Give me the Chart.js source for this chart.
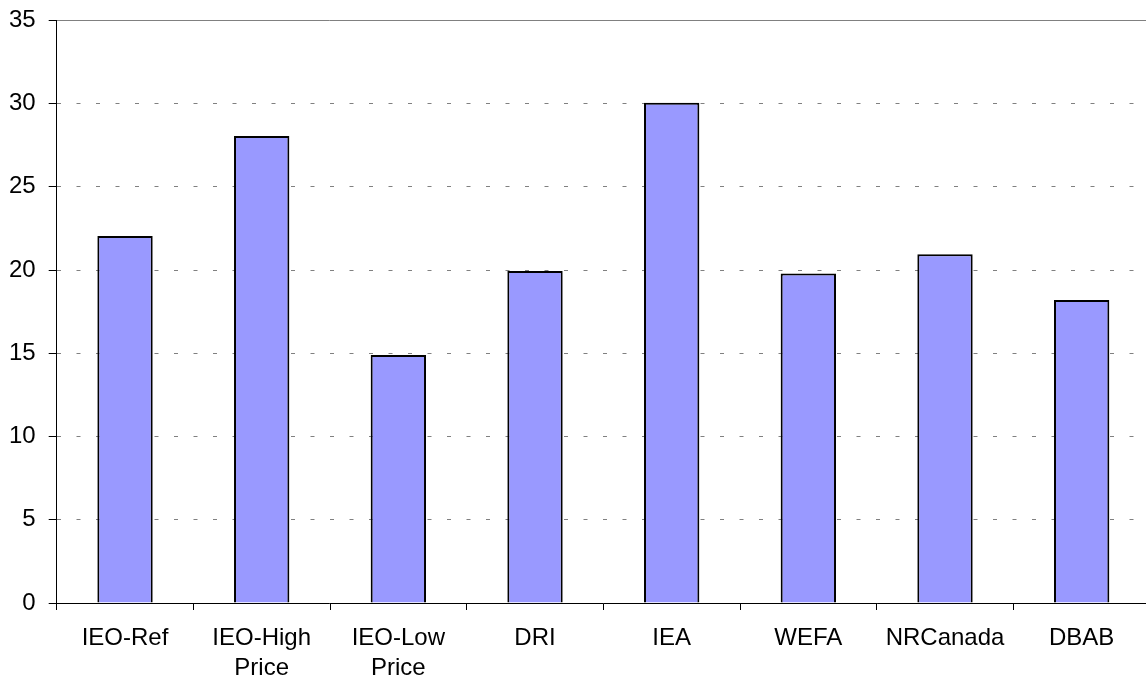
<!DOCTYPE html>
<html>
<head>
<meta charset="utf-8">
<script src="https://cdn.jsdelivr.net/npm/chart.js@4"></script>
<style>
    html, body { margin: 0; padding: 0; background: #fff; overflow: hidden; }
    #wrap { width: 1160px; height: 703px; margin: -7px 0 0 -10px; }
</style>
</head>
<body>
<div id="wrap"><canvas id="barChart"></canvas></div>
<script>
// categories (two-line labels as in the original)
const categories = [
    'IEO-Ref',
    ['IEO-High', 'Price'],
    ['IEO-Low', 'Price'],
    'DRI',
    'IEA',
    'WEFA',
    'NRCanada',
    'DBAB'
];
const values = [22.05, 28.05, 14.9, 19.95, 30.05, 19.8, 20.95, 18.2];
const yMax = 35;
const yStep = 5;

Chart.defaults.font.family = '"Liberation Sans", Arial, sans-serif';
Chart.defaults.color = '#000';

new Chart(document.getElementById('barChart'), {
    type: 'bar',
    data: {
        labels: categories,
        datasets: [{
            data: values,
            backgroundColor: '#9999FF',
            borderColor: '#000',
            borderWidth: 2,
            categoryPercentage: 1,
            barPercentage: 0.405
        }]
    },
    options: {
        responsive: true,
        maintainAspectRatio: false,
        animation: false,
        layout: { padding: { left: 6, top: 1, right: 0, bottom: 0 } },
        plugins: {
            legend: { display: false },
            tooltip: { enabled: false }
        },
        scales: {
            x: {
                grid: {
                    offset: true,
                    drawOnChartArea: false,
                    color: '#000',
                    tickLength: 7
                },
                border: { color: '#000', width: 1 },
                ticks: {
                    font: { size: 24, lineHeight: 1.25 },
                    padding: 13,
                    maxRotation: 0,
                    autoSkip: false
                }
            },
            xTop: {
                position: 'top',
                type: 'category',
                labels: categories,
                grid: { display: false, drawTicks: false },
                ticks: { display: false },
                border: { color: '#808080', width: 1 }
            },
            y: {
                min: 0,
                max: yMax,
                grid: {
                    color: '#808080',
                    tickColor: '#000',
                    tickLength: 8,
                    tickBorderDash: []
                },
                border: { color: '#000', width: 1, dash: [4, 15.5] },
                ticks: {
                    stepSize: yStep,
                    font: { size: 24 },
                    padding: 13
                }
            }
        }
    }
});
</script>
</body>
</html>
